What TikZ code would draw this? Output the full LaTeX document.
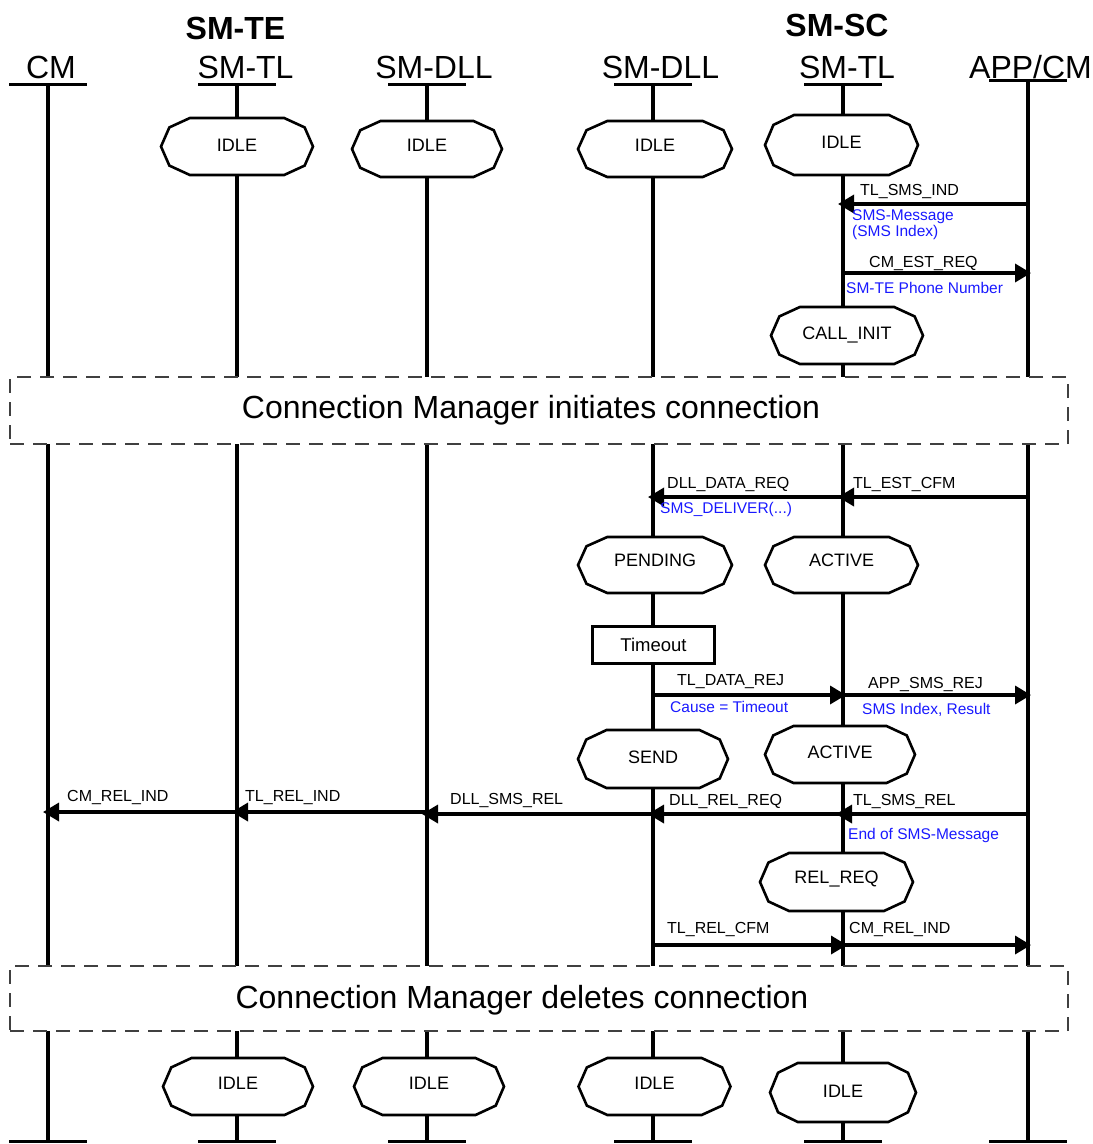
\documentclass[tikz,border=0pt]{standalone}
\usepackage{fontspec}
\setmainfont{Liberation Sans}
\usetikzlibrary{arrows.meta}
\definecolor{msgblue}{RGB}{25,25,255}
\newcommand\sdlstate[7]{%
  \draw[stline] ({#2-0.62*#4},{#3-#5}) -- ({#2+0.62*#4},{#3-#5}) -- ({#2+0.89*#4},{#3-0.67*#5}) -- ({#2+#4},{#3}) -- ({#2+0.89*#4},{#3+0.67*#5}) -- ({#2+0.62*#4},{#3+#5}) -- ({#2-0.62*#4},{#3+#5}) -- ({#2-0.89*#4},{#3+0.67*#5}) -- ({#2-#4},{#3}) -- ({#2-0.89*#4},{#3-0.67*#5}) -- cycle;
  \node[sttext] (#1) at (#2,{#6+6.4}) {#7};
}
\tikzset{
  life/.style={line width=3.5pt},
  headbar/.style={line width=3pt},
  hdr/.style={font=\fontsize{32}{36}\selectfont, inner sep=0pt, anchor=base},
  hdrb/.style={font=\fontsize{32}{36}\selectfont\bfseries, inner sep=0pt, anchor=base},
  stline/.style={line width=2.6pt, fill=white, line join=miter},
  sttext/.style={font=\fontsize{18}{20}\selectfont, inner sep=0pt, anchor=base},
  msg/.style={line width=3.5pt, -{Triangle[length=16pt,width=18pt]}},
  lbl/.style={font=\fontsize{16}{18}\selectfont, inner sep=0pt, anchor=base west},
  blbl/.style={font=\fontsize{15.5}{15.5}\selectfont, text=msgblue, inner sep=0pt, anchor=base west, align=left},
  band/.style={draw=black!75, line width=1.5pt, dash pattern=on 14pt off 9pt, fill=white, inner sep=0pt},
  bandtext/.style={font=\fontsize{32}{36}\selectfont, inner sep=0pt, anchor=base},
  tbox/.style={draw, fill=white, line width=3pt, minimum width=122pt, minimum height=37pt, inner sep=0pt, font=\fontsize{18.5}{20}\selectfont},
}
\begin{document}
\begin{tikzpicture}[x=1pt,y=-1pt]
\useasboundingbox (0,0) rectangle (1093,1144);
% lifeline end points
\coordinate (cmT) at (48,84);    \coordinate (cmB) at (48,1141);
\coordinate (tetlT) at (237,84); \coordinate (tetlB) at (237,1141);
\coordinate (tedlT) at (427,84); \coordinate (tedlB) at (427,1141);
\coordinate (scdlT) at (653,84); \coordinate (scdlB) at (653,1141);
\coordinate (sctlT) at (843,84); \coordinate (sctlB) at (843,1141);
\coordinate (appT) at (1028,80); \coordinate (appB) at (1028,1141);
\foreach \n in {cm,tetl,tedl,scdl,sctl,app}{
  \draw[life] (\n T) -- (\n B);
  \draw[headbar] ([xshift=-39pt]\n T) -- ([xshift=39pt]\n T);
  \draw[headbar] ([xshift=-39pt]\n B) -- ([xshift=39pt]\n B);
}
% headers
\node[hdrb] (hTE) at (235.5,39) {SM-TE};
\node[hdrb] (hSC) at (837,36) {SM-SC};
\node[hdr] (hCM) at (51,78) {CM};
\node[hdr] (hTETL) at (245.5,78) {SM-TL};
\node[hdr] (hTEDL) at (434,78) {SM-DLL};
\node[hdr] (hSCDL) at (660.5,78) {SM-DLL};
\node[hdr] (hSCTL) at (847,78) {SM-TL};
\node[hdr] (hAPP) at (1030.5,78) {APP/CM};
\draw[headbar] ([xshift=-39pt]appT) -- ([xshift=39pt]appT);
% bands
\node[band, minimum width=1058pt, minimum height=67pt] (band1) at (539,410.5) {};
\node[bandtext] (band1t) at (531,418.5) {Connection Manager initiates connection};
\node[band, minimum width=1058pt, minimum height=65pt] (band2) at (539,998.5) {};
\node[bandtext] (band2t) at (522,1008) {Connection Manager deletes connection};
% states
\sdlstate{s1}{237}{146.5}{76}{28.5}{145}{IDLE}
\sdlstate{s2}{427}{149}{75}{28}{145}{IDLE}
\sdlstate{s3}{655}{149}{77}{28}{145}{IDLE}
\sdlstate{s4}{841.5}{145}{76.5}{30}{142}{IDLE}
\sdlstate{s5}{847}{335.5}{76}{28.5}{333}{CALL\_INIT}
\sdlstate{s6}{655}{565}{77}{28}{560}{PENDING}
\sdlstate{s7}{841.5}{565}{76.5}{28}{560}{ACTIVE}
\sdlstate{s8}{653}{759}{75}{29}{757}{SEND}
\sdlstate{s9}{840}{754.5}{75}{28.5}{752}{ACTIVE}
\sdlstate{s10}{836.5}{882}{76.5}{29}{877}{REL\_REQ}
\sdlstate{s11}{238}{1086.5}{75}{28.5}{1083}{IDLE}
\sdlstate{s12}{429}{1086.5}{75}{28.5}{1083}{IDLE}
\sdlstate{s13}{654.5}{1086.5}{76}{28.5}{1083}{IDLE}
\sdlstate{s14}{843}{1092.5}{73}{29.5}{1091}{IDLE}
\node[tbox] (tmo) at (653.5,645) {Timeout};
% messages
\coordinate (m1a) at (1028,204); \coordinate (m1b) at (838,204);
\draw[msg] (m1a) -- (m1b);
\node[lbl] (l1) at (860,195) {TL\_SMS\_IND};
\node[blbl] (b1) at (852,236) {SMS-Message\\(SMS Index)};
\coordinate (m2a) at (843,273); \coordinate (m2b) at (1031,273);
\draw[msg] (m2a) -- (m2b);
\node[lbl] (l2) at (869,267) {CM\_EST\_REQ};
\node[blbl] (b2) at (846,293) {SM-TE Phone Number};
\coordinate (m3a) at (1028,497); \coordinate (m3b) at (838,497);
\draw[msg] (m3a) -- (m3b);
\node[lbl] (l3) at (853,488) {TL\_EST\_CFM};
\coordinate (m4a) at (843,497); \coordinate (m4b) at (648,497);
\draw[msg] (m4a) -- (m4b);
\node[lbl] (l4) at (667,488) {DLL\_DATA\_REQ};
\node[blbl] (b4) at (660,513.5) {SMS\_DELIVER(...)};
\coordinate (m5a) at (653,695); \coordinate (m5b) at (846,695);
\draw[msg] (m5a) -- (m5b);
\node[lbl] (l5) at (677,685) {TL\_DATA\_REJ};
\node[blbl] (b5) at (670,712.5) {Cause = Timeout};
\coordinate (m6a) at (843,695); \coordinate (m6b) at (1031,695);
\draw[msg] (m6a) -- (m6b);
\node[lbl] (l6) at (868,688) {APP\_SMS\_REJ};
\node[blbl] (b6) at (862,714.5) {SMS Index, Result};
\coordinate (m7a) at (1028,814); \coordinate (m7b) at (836,814);
\draw[msg] (m7a) -- (m7b);
\node[lbl] (l7) at (853,805) {TL\_SMS\_REL};
\node[blbl] (b7) at (848,839.5) {End of SMS-Message};
\coordinate (m8a) at (843,814); \coordinate (m8b) at (648,814);
\draw[msg] (m8a) -- (m8b);
\node[lbl] (l8) at (669,805) {DLL\_REL\_REQ};
\coordinate (m9a) at (653,814); \coordinate (m9b) at (422,814);
\draw[msg] (m9a) -- (m9b);
\node[lbl] (l9) at (450,804) {DLL\_SMS\_REL};
\coordinate (m10a) at (427,812); \coordinate (m10b) at (232,812);
\draw[msg] (m10a) -- (m10b);
\node[lbl] (l10) at (245,801.5) {TL\_REL\_IND};
\coordinate (m11a) at (237,812); \coordinate (m11b) at (43,812);
\draw[msg] (m11a) -- (m11b);
\node[lbl] (l11) at (67,801.5) {CM\_REL\_IND};
\coordinate (m12a) at (653,945); \coordinate (m12b) at (847,945);
\draw[msg] (m12a) -- (m12b);
\node[lbl] (l12) at (667,933) {TL\_REL\_CFM};
\coordinate (m13a) at (843,945); \coordinate (m13b) at (1031,945);
\draw[msg] (m13a) -- (m13b);
\node[lbl] (l13) at (849,933) {CM\_REL\_IND};
\end{tikzpicture}
\end{document}
